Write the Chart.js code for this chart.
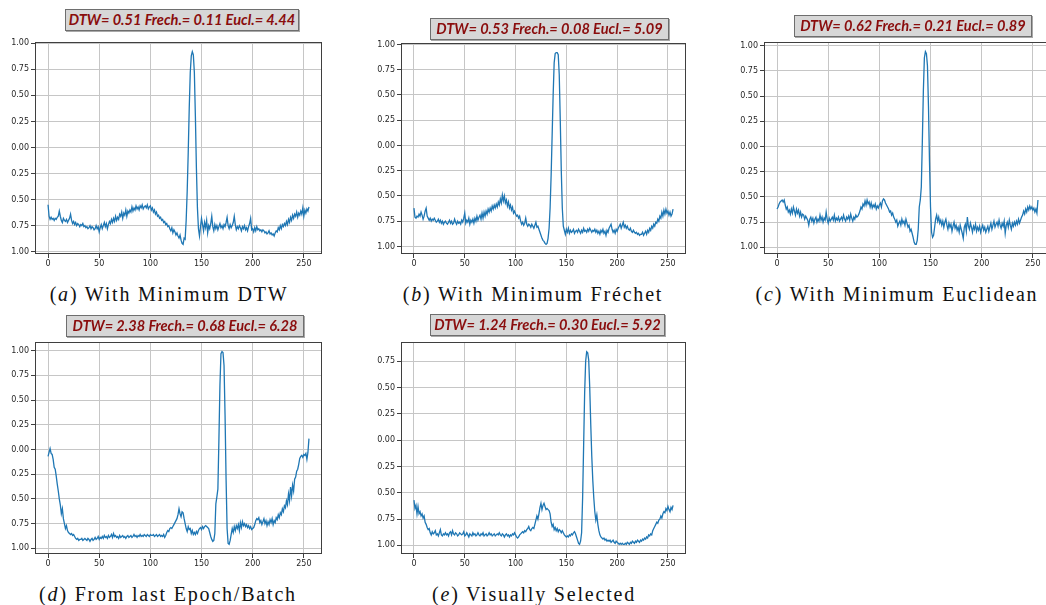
<!DOCTYPE html>
<html>
<head>
<meta charset="utf-8">
<script src="https://cdn.jsdelivr.net/npm/chart.js@4.4.1/dist/chart.umd.min.js"></script>
<style>
  html, body { margin: 0; padding: 0; background: #fff; overflow: hidden; }
  body { width: 1046px; height: 605px; position: relative; }
  canvas { position: absolute; }
  .score {
    position: absolute; box-sizing: border-box;
    background: #d7d7d7; border: 1px solid #6e6e6e;
    box-shadow: 1px 1px 0 #a8a8a8;
    color: #8a0d0d; font-family: Lato, "Open Sans", sans-serif;
    font-weight: 700; font-style: italic; font-size: 14.6px;
    text-align: center; white-space: nowrap; line-height: 20px;
  }
  .caption {
    position: absolute; white-space: nowrap; text-align: center;
    font-family: "Liberation Serif", "Times New Roman", serif; font-size: 20px;
    line-height: 20px; color: #111; letter-spacing: 1.8px;
  }
</style>
</head>
<body>
<script>
// Generated ECG beats, 256 samples each
const sampleIdx = Array.from({ length: 256 }, (_, i) => i);

const minDtwBeat = [
  -0.55,-0.66,-0.69,-0.67,-0.69,-0.68,-0.70,-0.68,-0.69,-0.67,-0.66,-0.61,-0.66,-0.70,-0.72,-0.68,
  -0.70,-0.71,-0.69,-0.72,-0.70,-0.68,-0.64,-0.70,-0.73,-0.71,-0.74,-0.72,-0.75,-0.73,-0.74,-0.76,
  -0.74,-0.75,-0.73,-0.76,-0.75,-0.77,-0.76,-0.78,-0.77,-0.75,-0.78,-0.76,-0.77,-0.79,-0.78,-0.75,
  -0.78,-0.76,-0.81,-0.77,-0.74,-0.78,-0.75,-0.72,-0.76,-0.73,-0.78,-0.74,-0.71,-0.73,-0.69,-0.72,
  -0.68,-0.71,-0.66,-0.70,-0.67,-0.69,-0.64,-0.66,-0.62,-0.68,-0.63,-0.65,-0.60,-0.66,-0.61,-0.63,
  -0.60,-0.62,-0.57,-0.61,-0.58,-0.60,-0.56,-0.59,-0.57,-0.60,-0.56,-0.58,-0.55,-0.59,-0.57,-0.56,
  -0.58,-0.55,-0.59,-0.57,-0.56,-0.60,-0.58,-0.62,-0.60,-0.64,-0.62,-0.66,-0.65,-0.68,-0.67,-0.70,
  -0.69,-0.72,-0.71,-0.74,-0.73,-0.76,-0.75,-0.78,-0.80,-0.77,-0.82,-0.79,-0.81,-0.84,-0.82,-0.85,
  -0.87,-0.84,-0.89,-0.92,-0.93,-0.87,-0.88,-0.70,-0.42,-0.05,0.38,0.72,0.88,0.92,0.89,0.72,
  0.30,-0.20,-0.58,-0.78,-0.85,-0.76,-0.68,-0.74,-0.80,-0.72,-0.77,-0.70,-0.82,-0.75,-0.78,-0.73,
  -0.66,-0.76,-0.80,-0.74,-0.78,-0.75,-0.79,-0.76,-0.73,-0.77,-0.75,-0.78,-0.74,-0.76,-0.72,-0.67,
  -0.75,-0.78,-0.74,-0.77,-0.75,-0.72,-0.66,-0.74,-0.79,-0.76,-0.78,-0.75,-0.77,-0.80,-0.76,-0.78,
  -0.75,-0.79,-0.77,-0.80,-0.76,-0.73,-0.68,-0.79,-0.78,-0.81,-0.77,-0.80,-0.76,-0.79,-0.78,-0.80,
  -0.79,-0.81,-0.79,-0.80,-0.82,-0.81,-0.83,-0.82,-0.80,-0.83,-0.82,-0.84,-0.83,-0.85,-0.82,-0.80,
  -0.81,-0.77,-0.79,-0.75,-0.78,-0.74,-0.76,-0.73,-0.75,-0.71,-0.74,-0.69,-0.72,-0.67,-0.70,-0.65,
  -0.68,-0.64,-0.66,-0.62,-0.67,-0.63,-0.65,-0.61,-0.64,-0.58,-0.66,-0.60,-0.63,-0.59,-0.61,-0.57
];

const minFrechetBeat = [
  -0.62,-0.71,-0.72,-0.70,-0.71,-0.68,-0.70,-0.66,-0.69,-0.73,-0.70,-0.65,-0.62,-0.70,-0.72,-0.74,
  -0.72,-0.75,-0.73,-0.74,-0.72,-0.74,-0.76,-0.75,-0.73,-0.76,-0.74,-0.77,-0.75,-0.78,-0.76,-0.75,
  -0.77,-0.78,-0.76,-0.74,-0.77,-0.75,-0.78,-0.77,-0.73,-0.76,-0.78,-0.75,-0.77,-0.76,-0.78,-0.74,
  -0.76,-0.72,-0.67,-0.77,-0.74,-0.76,-0.72,-0.78,-0.74,-0.76,-0.73,-0.77,-0.72,-0.75,-0.70,-0.74,
  -0.71,-0.69,-0.73,-0.67,-0.72,-0.66,-0.70,-0.65,-0.68,-0.63,-0.66,-0.62,-0.65,-0.60,-0.63,-0.59,
  -0.62,-0.58,-0.61,-0.56,-0.59,-0.53,-0.57,-0.49,-0.55,-0.50,-0.57,-0.54,-0.60,-0.56,-0.62,-0.59,
  -0.64,-0.61,-0.67,-0.65,-0.68,-0.70,-0.69,-0.72,-0.70,-0.75,-0.78,-0.76,-0.79,-0.77,-0.72,-0.78,
  -0.80,-0.78,-0.79,-0.81,-0.78,-0.80,-0.82,-0.79,-0.76,-0.81,-0.80,-0.83,-0.86,-0.89,-0.92,-0.94,
  -0.95,-0.97,-0.98,-0.97,-0.92,-0.82,-0.62,-0.30,0.10,0.50,0.82,0.91,0.92,0.92,0.90,0.70,
  0.25,-0.25,-0.62,-0.80,-0.84,-0.88,-0.83,-0.86,-0.82,-0.87,-0.84,-0.86,-0.85,-0.83,-0.87,-0.85,
  -0.84,-0.86,-0.83,-0.85,-0.87,-0.84,-0.86,-0.82,-0.85,-0.84,-0.86,-0.83,-0.85,-0.82,-0.84,-0.86,
  -0.84,-0.85,-0.83,-0.86,-0.84,-0.87,-0.85,-0.88,-0.84,-0.86,-0.83,-0.87,-0.85,-0.89,-0.84,-0.86,
  -0.82,-0.80,-0.78,-0.83,-0.86,-0.84,-0.87,-0.83,-0.85,-0.82,-0.80,-0.78,-0.82,-0.79,-0.76,-0.81,
  -0.79,-0.82,-0.80,-0.83,-0.84,-0.82,-0.85,-0.86,-0.84,-0.86,-0.87,-0.86,-0.88,-0.87,-0.89,-0.88,
  -0.88,-0.86,-0.89,-0.87,-0.85,-0.88,-0.84,-0.86,-0.82,-0.84,-0.80,-0.82,-0.78,-0.80,-0.76,-0.77,
  -0.73,-0.75,-0.70,-0.72,-0.66,-0.70,-0.64,-0.68,-0.63,-0.67,-0.65,-0.69,-0.66,-0.70,-0.68,-0.63
];

const minEuclideanBeat = [
  -0.62,-0.60,-0.57,-0.55,-0.54,-0.53,-0.55,-0.53,-0.58,-0.62,-0.60,-0.65,-0.63,-0.67,-0.62,-0.66,
  -0.60,-0.64,-0.68,-0.62,-0.66,-0.63,-0.69,-0.65,-0.70,-0.67,-0.68,-0.72,-0.69,-0.71,-0.73,-0.78,
  -0.72,-0.70,-0.74,-0.71,-0.76,-0.72,-0.70,-0.75,-0.72,-0.74,-0.68,-0.73,-0.70,-0.75,-0.71,-0.73,
  -0.65,-0.72,-0.76,-0.71,-0.74,-0.72,-0.70,-0.73,-0.68,-0.74,-0.71,-0.73,-0.70,-0.74,-0.72,-0.70,
  -0.73,-0.68,-0.72,-0.74,-0.70,-0.72,-0.69,-0.73,-0.67,-0.71,-0.74,-0.70,-0.72,-0.68,-0.70,-0.69,
  -0.67,-0.64,-0.60,-0.62,-0.57,-0.59,-0.54,-0.58,-0.53,-0.57,-0.55,-0.60,-0.56,-0.61,-0.58,-0.60,
  -0.57,-0.62,-0.59,-0.61,-0.58,-0.56,-0.60,-0.54,-0.52,-0.53,-0.56,-0.58,-0.60,-0.62,-0.65,-0.64,
  -0.68,-0.66,-0.70,-0.72,-0.75,-0.73,-0.79,-0.76,-0.74,-0.78,-0.72,-0.76,-0.74,-0.78,-0.72,-0.76,
  -0.80,-0.78,-0.84,-0.82,-0.86,-0.90,-0.95,-0.97,-0.97,-0.93,-0.82,-0.60,-0.53,-0.40,0.05,0.55,
  0.88,0.94,0.92,0.80,0.40,-0.15,-0.60,-0.85,-0.90,-0.88,-0.80,-0.72,-0.68,-0.74,-0.70,-0.76,
  -0.73,-0.78,-0.74,-0.80,-0.75,-0.72,-0.78,-0.82,-0.76,-0.80,-0.77,-0.84,-0.79,-0.75,-0.81,-0.78,
  -0.83,-0.80,-0.85,-0.78,-0.82,-0.86,-0.91,-0.80,-0.77,-0.84,-0.70,-0.79,-0.82,-0.76,-0.80,-0.85,
  -0.79,-0.82,-0.77,-0.84,-0.80,-0.83,-0.79,-0.85,-0.81,-0.78,-0.83,-0.80,-0.85,-0.82,-0.79,-0.84,
  -0.80,-0.76,-0.82,-0.78,-0.74,-0.80,-0.77,-0.75,-0.79,-0.73,-0.78,-0.81,-0.76,-0.79,-0.74,-0.86,
  -0.78,-0.75,-0.80,-0.73,-0.78,-0.82,-0.76,-0.79,-0.75,-0.78,-0.74,-0.77,-0.72,-0.76,-0.73,-0.70,
  -0.68,-0.64,-0.67,-0.62,-0.65,-0.60,-0.63,-0.59,-0.62,-0.60,-0.63,-0.61,-0.65,-0.62,-0.66,-0.53
];

const lastEpochBeat = [
  -0.07,-0.03,0.01,-0.04,-0.05,-0.10,-0.18,-0.20,-0.27,-0.35,-0.42,-0.50,-0.56,-0.65,-0.60,-0.70,
  -0.75,-0.80,-0.77,-0.82,-0.84,-0.85,-0.86,-0.85,-0.87,-0.86,-0.88,-0.90,-0.91,-0.90,-0.92,-0.91,
  -0.91,-0.90,-0.92,-0.91,-0.90,-0.91,-0.92,-0.90,-0.91,-0.93,-0.91,-0.90,-0.92,-0.91,-0.89,-0.91,
  -0.90,-0.88,-0.91,-0.89,-0.90,-0.88,-0.90,-0.87,-0.89,-0.88,-0.90,-0.87,-0.89,-0.88,-0.86,-0.89,
  -0.85,-0.88,-0.87,-0.89,-0.88,-0.90,-0.87,-0.89,-0.88,-0.87,-0.89,-0.88,-0.90,-0.88,-0.87,-0.89,
  -0.88,-0.87,-0.89,-0.88,-0.86,-0.88,-0.87,-0.89,-0.87,-0.88,-0.86,-0.88,-0.87,-0.88,-0.86,-0.87,
  -0.88,-0.86,-0.87,-0.88,-0.86,-0.87,-0.87,-0.86,-0.88,-0.87,-0.86,-0.88,-0.87,-0.86,-0.88,-0.87,
  -0.88,-0.86,-0.89,-0.87,-0.84,-0.82,-0.83,-0.80,-0.79,-0.80,-0.78,-0.76,-0.74,-0.72,-0.70,-0.66,
  -0.60,-0.65,-0.68,-0.63,-0.64,-0.70,-0.75,-0.80,-0.83,-0.78,-0.81,-0.80,-0.85,-0.82,-0.86,-0.84,
  -0.86,-0.83,-0.85,-0.82,-0.80,-0.79,-0.81,-0.78,-0.80,-0.78,-0.77,-0.78,-0.79,-0.80,-0.84,-0.88,
  -0.91,-0.93,-0.92,-0.85,-0.55,-0.48,-0.40,0.10,0.65,0.97,0.99,0.98,0.85,0.35,-0.30,-0.80,
  -0.95,-0.96,-0.92,-0.86,-0.80,-0.84,-0.78,-0.82,-0.77,-0.80,-0.76,-0.82,-0.74,-0.79,-0.73,-0.77,
  -0.75,-0.78,-0.76,-0.79,-0.77,-0.80,-0.78,-0.81,-0.80,-0.79,-0.76,-0.72,-0.70,-0.71,-0.69,-0.74,
  -0.72,-0.76,-0.73,-0.70,-0.75,-0.72,-0.77,-0.73,-0.76,-0.71,-0.74,-0.70,-0.76,-0.72,-0.74,-0.69,
  -0.71,-0.66,-0.69,-0.64,-0.66,-0.60,-0.63,-0.57,-0.59,-0.52,-0.56,-0.45,-0.52,-0.38,-0.47,-0.36,
  -0.42,-0.30,-0.28,-0.22,-0.20,-0.15,-0.09,-0.07,-0.06,-0.08,-0.05,-0.06,-0.04,-0.10,-0.03,0.11
];

const visualBeat = [
  -0.57,-0.65,-0.62,-0.70,-0.63,-0.70,-0.68,-0.72,-0.70,-0.74,-0.72,-0.78,-0.80,-0.83,-0.85,-0.84,
  -0.88,-0.90,-0.87,-0.89,-0.88,-0.86,-0.90,-0.89,-0.91,-0.88,-0.85,-0.90,-0.91,-0.89,-0.90,-0.88,
  -0.90,-0.89,-0.91,-0.88,-0.87,-0.90,-0.86,-0.89,-0.90,-0.88,-0.89,-0.91,-0.90,-0.88,-0.89,-0.90,
  -0.89,-0.87,-0.91,-0.90,-0.88,-0.90,-0.92,-0.89,-0.90,-0.91,-0.88,-0.90,-0.89,-0.91,-0.90,-0.88,
  -0.90,-0.91,-0.89,-0.90,-0.88,-0.91,-0.90,-0.89,-0.91,-0.90,-0.88,-0.90,-0.89,-0.91,-0.90,-0.89,
  -0.91,-0.90,-0.89,-0.90,-0.88,-0.90,-0.91,-0.89,-0.90,-0.92,-0.90,-0.89,-0.91,-0.90,-0.92,-0.90,
  -0.91,-0.89,-0.90,-0.88,-0.90,-0.92,-0.93,-0.92,-0.90,-0.89,-0.88,-0.87,-0.88,-0.86,-0.87,-0.85,
  -0.84,-0.82,-0.85,-0.86,-0.84,-0.83,-0.84,-0.80,-0.76,-0.72,-0.75,-0.70,-0.64,-0.60,-0.66,-0.62,
  -0.60,-0.63,-0.66,-0.65,-0.66,-0.67,-0.70,-0.78,-0.82,-0.80,-0.85,-0.83,-0.86,-0.84,-0.87,-0.85,
  -0.86,-0.88,-0.86,-0.88,-0.90,-0.91,-0.92,-0.91,-0.92,-0.90,-0.91,-0.89,-0.90,-0.88,-0.87,-0.89,
  -0.92,-0.95,-0.98,-0.99,-0.96,-0.88,-0.55,-0.05,0.45,0.75,0.84,0.83,0.76,0.50,0.15,-0.15,
  -0.38,-0.55,-0.68,-0.76,-0.71,-0.80,-0.86,-0.90,-0.92,-0.93,-0.94,-0.93,-0.95,-0.94,-0.96,-0.95,
  -0.96,-0.95,-0.97,-0.96,-0.95,-0.97,-0.98,-0.96,-0.97,-0.98,-0.99,-0.98,-0.99,-0.98,-0.99,-0.99,
  -0.98,-0.99,-0.97,-0.98,-0.99,-0.97,-0.98,-0.96,-0.97,-0.98,-0.96,-0.97,-0.95,-0.96,-0.97,-0.95,
  -0.96,-0.94,-0.95,-0.93,-0.94,-0.92,-0.93,-0.90,-0.91,-0.89,-0.90,-0.86,-0.84,-0.82,-0.80,-0.78,
  -0.79,-0.76,-0.75,-0.72,-0.74,-0.70,-0.68,-0.69,-0.65,-0.67,-0.63,-0.66,-0.68,-0.64,-0.66,-0.62
];

// Distance scores shown above each beat
const scoreTexts = [
  'DTW= 0.51 Frech.= 0.11 Eucl.= 4.44',
  'DTW= 0.53 Frech.= 0.08 Eucl.= 5.09',
  'DTW= 0.62 Frech.= 0.21 Eucl.= 0.89',
  'DTW= 2.38 Frech.= 0.68 Eucl.= 6.28',
  'DTW= 1.24 Frech.= 0.30 Eucl.= 5.92'
];
const captionLetters = ['a', 'b', 'c', 'd', 'e'];
const captionTexts = [
  'With Minimum DTW',
  'With Minimum Fréchet',
  'With Minimum Euclidean',
  'From last Epoch/Batch',
  'Visually Selected'
];

const xTickValues = [0, 50, 100, 150, 200, 250];
const yTickValues = [-1, -0.75, -0.5, -0.25, 0, 0.25, 0.5, 0.75, 1];

// Panel placement on the page (plot-area box, score box, caption centre/baseline)
const panels = [
  { series: minDtwBeat,        area: [35, 42.3, 287.3, 212],  box: [65, 9, 234, 22],    cap: [169, 300] },
  { series: minFrechetBeat,    area: [400.7, 42.7, 285.3, 211.3], box: [430, 18, 239, 22],  cap: [533, 300] },
  { series: minEuclideanBeat,  area: [764.3, 42.3, 286.7, 211.7], box: [794, 15, 238, 22],  cap: [897, 300] },
  { series: lastEpochBeat,     area: [35, 342.3, 287.3, 211.7], box: [66, 315, 238, 22],  cap: [168, 600] },
  { series: visualBeat,        area: [400.7, 342.3, 285.3, 212], box: [430, 314, 235, 22], cap: [534, 600] }
];

const Y_W = 40, X_H = 24, PAD_T = 10, PAD_R = 4;

// Full rectangular frame around the plot area (matplotlib-style spines)
const framePlugin = {
  id: 'frame',
  afterDatasetsDraw(chart) {
    const { ctx, chartArea: a } = chart;
    ctx.save();
    ctx.strokeStyle = '#3f3f3f';
    ctx.lineWidth = 1;
    ctx.strokeRect(Math.round(a.left) + 0.5, Math.round(a.top) + 0.5,
                   Math.round(a.right - a.left) - 1, Math.round(a.bottom - a.top) - 1);
    ctx.restore();
  }
};

function addText(cls, text, style) {
  const d = document.createElement('div');
  d.className = cls;
  Object.assign(d.style, style);
  d.innerHTML = text;
  document.body.appendChild(d);
  return d;
}

panels.forEach((p, k) => {
  const [ax, ay, aw, ah] = p.area;
  const cv = document.createElement('canvas');
  const cw = Math.round(Y_W + aw + PAD_R), ch = Math.round(PAD_T + ah + X_H);
  cv.width = cw; cv.height = ch;
  cv.style.width = cw + 'px'; cv.style.height = ch + 'px';
  cv.style.left = Math.round(ax - Y_W) + 'px';
  cv.style.top = Math.round(ay - PAD_T) + 'px';
  document.body.appendChild(cv);

  // Autoscale with 5% margins around the data
  const lo = Math.min(...p.series), hi = Math.max(...p.series);
  const m = (hi - lo) * 0.05;
  const yMin = lo - m, yMax = hi + m;
  const xMin = sampleIdx[0] - 0.05 * (sampleIdx[255] - sampleIdx[0]);
  const xMax = sampleIdx[255] + 0.05 * (sampleIdx[255] - sampleIdx[0]);

  const tickFont = { family: 'DejaVu Sans', size: 8 };
  new Chart(cv, {
    type: 'line',
    data: {
      datasets: [{
        data: p.series.map((v, i) => ({ x: sampleIdx[i], y: v })),
        borderColor: '#1f77b4', borderWidth: 1.3,
        pointRadius: 0, tension: 0, fill: false
      }]
    },
    options: {
      responsive: false, animation: false, devicePixelRatio: 1,
      layout: { padding: { top: PAD_T, right: PAD_R, left: 0, bottom: 0 } },
      plugins: { legend: { display: false }, tooltip: { enabled: false } },
      scales: {
        x: {
          type: 'linear', min: xMin, max: xMax,
          afterBuildTicks: s => { s.ticks = xTickValues.map(v => ({ value: v })); },
          afterFit: s => { s.height = X_H; },
          grid: { color: '#c6c6c6', lineWidth: 1, tickColor: '#3f3f3f', tickLength: 4 },
          border: { display: false },
          ticks: { font: tickFont, color: '#262626', padding: 1, maxRotation: 0,
                   callback: v => String(v) }
        },
        y: {
          type: 'linear', min: yMin, max: yMax,
          afterBuildTicks: s => {
            s.ticks = yTickValues.filter(v => v >= yMin && v <= yMax).map(v => ({ value: v }));
          },
          afterFit: s => { s.width = Y_W; },
          grid: { color: '#c6c6c6', lineWidth: 1, tickColor: '#3f3f3f', tickLength: 4 },
          border: { display: false },
          ticks: { font: tickFont, color: '#262626', padding: 2,
                   callback: v => Math.abs(v).toFixed(2) }
        }
      }
    },
    plugins: [framePlugin]
  });

  const [bx, by, bw, bh] = p.box;
  addText('score', scoreTexts[k], {
    left: bx + 'px', top: by + 'px', width: bw + 'px', height: bh + 'px'
  });

  const [cx, base] = p.cap;
  addText('caption', '(<i>' + captionLetters[k] + '</i>) ' + captionTexts[k], {
    left: (cx - 200) + 'px', width: '400px', top: (base - 16.5) + 'px'
  });
});
</script>
</body>
</html>
